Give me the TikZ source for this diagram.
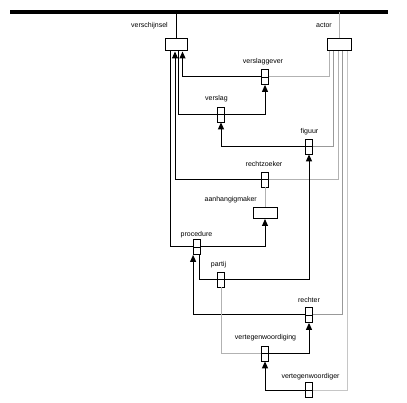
\documentclass[tikz,border=0pt]{standalone}
\usepackage{fontspec}
\setmainfont{Liberation Sans}
\usetikzlibrary{arrows.meta}

\begin{document}
\begin{tikzpicture}[
    x=1pt,y=-1pt,
    line/.style={line width=1pt},
    pale/.style={line width=1pt, gray!60},
    arr/.style={line width=1pt, -{Triangle[length=7pt,width=6pt]}},
    role/.style={draw, line width=0.8pt, fill=white, inner sep=0pt,
        minimum width=7pt, minimum height=15pt,
        path picture={\draw[line width=0.8pt] (path picture bounding box.west)
            -- (path picture bounding box.east);}},
    obj/.style={draw, line width=1pt, fill=white, inner sep=0pt, minimum height=12pt},
    lbl/.style={inner sep=0pt, font=\fontsize{7}{8}\selectfont}
    ]
    \useasboundingbox (0, 0) rectangle (407, 403);
    % object types
    \draw[line width=4pt] (10, 12) coordinate (barL) -- (388, 12) coordinate (barR);
    \node[obj, minimum width=22pt] (vsch) at (176, 45) {};
    \node[obj, minimum width=24pt] (actor) at (339, 45) {};
    \node[obj, minimum width=24pt, minimum height=11pt] (ahm) at (265, 213) {};
    % fact types
    \node[role] (vgever) at (265, 77) {};
    \node[role] (verslag) at (221, 114.5) {};
    \node[role] (figuur) at (309, 146.5) {};
    \node[role] (rzoeker) at (265, 179.5) {};
    \node[role] (proc) at (196.5, 247) {};
    \node[role] (partij) at (221, 279.5) {};
    \node[role] (rechter) at (309, 315) {};
    \node[role] (vtging) at (265, 353.5) {};
    \node[role] (vtger) at (309, 390) {};
    % labels
    \node[lbl, anchor=base east] (vschlbl) at (168, 27.5) {verschijnsel};
    \node[lbl, anchor=base east] (actorlbl) at (332, 27.5) {actor};
    \node[lbl, anchor=base east] (ahmlbl) at (257, 202) {aanhangigmaker};
    \node[lbl, anchor=base] (vgeverlbl) at (263, 63.5) {verslaggever};
    \node[lbl, anchor=base] (verslaglbl) at (216.5, 101) {verslag};
    \node[lbl, anchor=base] (figuurlbl) at (309.5, 134) {figuur};
    \node[lbl, anchor=base] (rzoekerlbl) at (264, 166.5) {rechtzoeker};
    \node[lbl, anchor=base] (proclbl) at (196.5, 236.5) {procedure};
    \node[lbl, anchor=base] (partijlbl) at (218.5, 266.5) {partij};
    \node[lbl, anchor=base] (rechterlbl) at (309, 302.5) {rechter};
    \node[lbl, anchor=base] (vtginglbl) at (265.5, 340) {vertegenwoordiging};
    \node[lbl, anchor=base] (vtgerlbl) at (310.5, 378) {vertegenwoordiger};
    % connectors
    \draw[line] (vsch.north) -- (vsch.north |- barL);
    \draw[pale] (actor.north) -- (actor.north |- barL);
    \draw[arr] (vgever.west) -| ([xshift=18pt]vsch.south west);
    \draw[pale] (vgever.east) -| ([xshift=3pt]actor.south west);
    \draw[line] (verslag.west) -| ([xshift=14pt]vsch.south west);
    \draw[arr] (verslag.east) -| (vgever.south);
    \draw[arr] (figuur.west) -| (verslag.south);
    \draw[line, gray!80] (figuur.east) -| ([xshift=7pt]actor.south west);
    \draw[arr] (rzoeker.west) -| ([xshift=10.5pt]vsch.south west);
    \draw[pale] (rzoeker.east) -| ([xshift=12pt]actor.south west);
    \draw[pale] (rzoeker.south) -- (ahm.north);
    \draw[line] (proc.west) -| ([xshift=5.7pt]vsch.south west);
    \draw[arr] (proc.east) -| (ahm.south);
    \draw[line] (partij.west) -| ([xshift=-1.3pt]proc.south east);
    \draw[arr] (partij.east) -| (figuur.south);
    \draw[arr] (rechter.west) -| ([xshift=0.5pt]proc.south west);
    \draw[line, gray!80] (rechter.east) -| ([xshift=16.3pt]actor.south west);
    \draw[pale] (vtging.west) -| (partij.south);
    \draw[arr] (vtging.east) -| (rechter.south);
    \draw[arr] (vtger.west) -| (vtging.south);
    \draw[line, gray!45] (vtger.east) -| ([xshift=20.7pt]actor.south west);
\end{tikzpicture}
\end{document}
